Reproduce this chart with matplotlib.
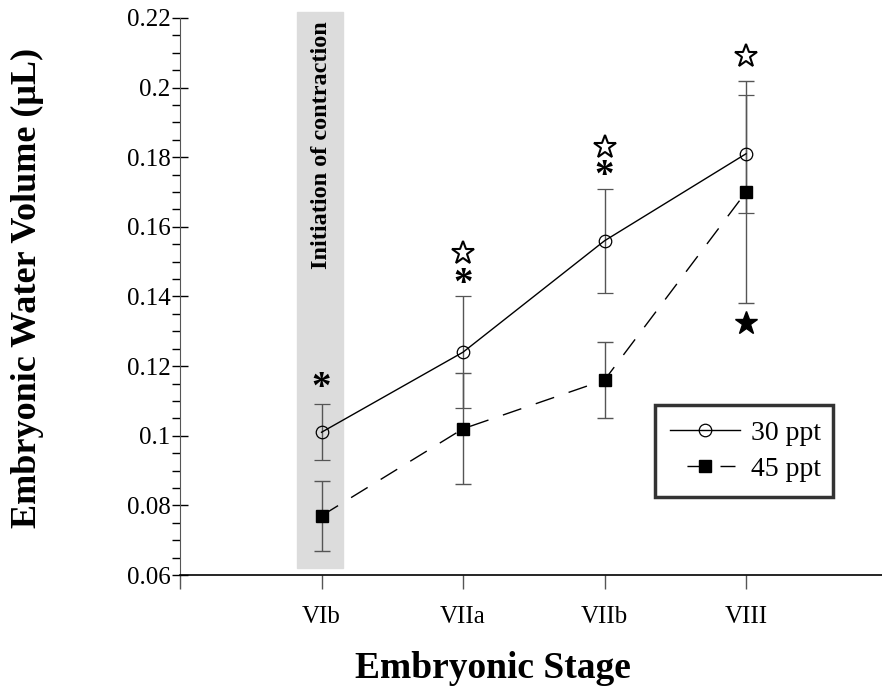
import matplotlib
matplotlib.use("Agg")
import matplotlib.pyplot as plt
from matplotlib.lines import Line2D
from matplotlib.ticker import MultipleLocator
import numpy as np

plt.rcParams["font.family"] = ["Liberation Serif", "DejaVu Serif"]

# ---------------------------------------------------------------------------
# Dados
# ---------------------------------------------------------------------------
stages = ["VIb", "VIIa", "VIIb", "VIII"]
vol_30 = [0.101, 0.124, 0.156, 0.181]
err_30 = [0.008, 0.016, 0.015, 0.017]
vol_45 = [0.077, 0.102, 0.116, 0.170]
err_45 = [0.010, 0.016, 0.011, 0.032]

# marcas de significancia
asterisks_y = [0.1135, 0.1435, 0.1745]   # VIb, VIIa, VIIb
open_stars_y = [None, 0.1525, 0.1830, 0.2090]
filled_star_y = 0.1325                   # VIII

y_ticks = [0.06, 0.08, 0.10, 0.12, 0.14, 0.16, 0.18, 0.20, 0.22]

# ---------------------------------------------------------------------------
fig = plt.figure(figsize=(8.82, 6.92), dpi=100)
ax = fig.add_axes([180 / 882, 1 - 575 / 692, 1 - 180 / 882, (575 - 18) / 692])

x = np.arange(1, len(stages) + 1, dtype=float)

# faixa "Initiation of contraction"
ax.axvspan(0.83, 1.15, ymin=(0.062 - 0.06) / 0.16, ymax=(0.2217 - 0.06) / 0.16,
           color="#dcdcdc", zorder=0, clip_on=False)
ax.text(1.0, 0.2192, "Initiation of contraction", rotation=90, ha="center", va="top",
        fontsize=17.5, fontweight="bold", zorder=1)

err_kw = dict(ecolor="#555555", elinewidth=1.0, capsize=6, capthick=1.0)
dash = (0, (14, 11))
ax.errorbar(x, vol_30, yerr=err_30, color="black", linewidth=1.0, marker="o",
            markersize=9, markerfacecolor="none", markeredgecolor="black",
            markeredgewidth=0.9, zorder=3, **err_kw)
ax.errorbar(x, vol_45, yerr=err_45, color="black", linewidth=1.0, linestyle=dash,
            marker="s", markersize=9, markerfacecolor="black", markeredgecolor="black",
            zorder=3, **err_kw)

for i, yv in enumerate(asterisks_y):
    ax.text(x[i], yv, "*", ha="center", va="center", fontsize=28, fontweight="bold",
            zorder=4)
star_x = [x[i] for i, yv in enumerate(open_stars_y) if yv is not None]
star_y = [yv for yv in open_stars_y if yv is not None]
ax.plot(star_x, star_y, linestyle="none", marker="*", markersize=17,
        markerfacecolor="white", markeredgecolor="black", markeredgewidth=1.5, zorder=4)
ax.plot([x[3]], [filled_star_y], linestyle="none", marker="*", markersize=17,
        markerfacecolor="black", markeredgecolor="black", markeredgewidth=1.0, zorder=4)

# eixos
ax.set_xlim(0, (882 - 180) / 141.5)
ax.set_ylim(0.06, 0.22)
ax.set_xticks([0] + list(x))
ax.set_xticklabels([""] + stages, fontsize=18)
ax.set_yticks(y_ticks)
ax.set_yticklabels(["%g" % v for v in y_ticks], fontsize=18)
ax.yaxis.set_minor_locator(MultipleLocator(0.005))
ax.tick_params(axis="y", which="major", direction="inout", length=12, width=1, pad=1)
ax.tick_params(axis="y", which="minor", direction="out", length=6, width=1)
ax.tick_params(axis="x", which="major", direction="out", length=10, width=1, pad=12,
               color="#555555")

for side in ("top", "right"):
    ax.spines[side].set_visible(False)
ax.spines["left"].set_color("#555555")
ax.spines["bottom"].set_linewidth(1.2)

ax.set_ylabel("Embryonic Water Volume (\u03bcL)", fontsize=26, fontweight="bold")
ax.yaxis.set_label_coords((44 - 180) / 702, (575 - 288) / 557)
fig.text(493 / 882, 1 - 668 / 692, "Embryonic Stage", ha="center", va="center",
         fontsize=27, fontweight="bold")

handles = [
    Line2D([], [], color="black", linewidth=1.0, marker="o", markersize=9,
           markerfacecolor="none", markeredgewidth=0.9),
    Line2D([], [], color="black", linewidth=1.0,
           linestyle=(38.2, (17.3, 6.5, 10.8, 15.8)), marker="s",
           markersize=9, markerfacecolor="black"),
]
leg = ax.legend(handles, ["30 ppt", "45 ppt"], loc="lower left",
                bbox_to_anchor=(655 / 882, 1 - 497 / 692, 178 / 882, 96 / 692),
                bbox_transform=fig.transFigure, mode="expand", frameon=True,
                fancybox=False, fontsize=20, handlelength=2.5, borderpad=0.55,
                labelspacing=0.37, handletextpad=0.4, borderaxespad=0)
leg.get_frame().set_edgecolor("black")
leg.get_frame().set_linewidth(2.5)

fig.savefig("out.png", dpi=100)
